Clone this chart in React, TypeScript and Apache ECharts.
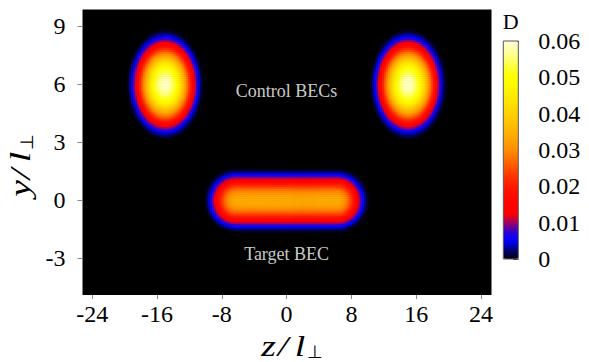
import React, { useEffect, useRef } from "react";
import * as echarts from "echarts";

// ---- axes / ticks ----
const Z_RANGE = [-25.2, 25.3];
const Y_RANGE = [-4.9, 9.85];
const X_TICKS = [-24, -16, -8, 0, 8, 16, 24];
const Y_TICKS = [-3, 0, 3, 6, 9];
const D_RANGE = [0, 0.06];
const D_STEP = 0.01;

// ---- condensates ----
const BEC_NAMES = ["Control BEC (left)", "Control BEC (right)", "Target BEC"];
const BEC_CENTER_Z = [-15, 15, 0];
const BEC_CENTER_Y = [6, 6, 0];
const BEC_FLAT_HALF_Z = [0, 0, 6.25];
const BEC_RADIUS_Z = [4.9, 4.9, 4.1];
const BEC_RADIUS_Y = [2.94, 2.94, 1.73];
const BEC_PEAK_D = [0.059, 0.059, 0.034];
const PROFILE_EXPONENT = 2;

// ---- annotations ----
const NOTE_TEXT = ["Control BECs", "Target BEC"];
const NOTE_Z = [0, 0];
const NOTE_Y = [5.62, -2.76];

// ---- colour map (0 .. 0.06, even steps) ----
const PALETTE = [
  "#000000", "#00007a", "#0000ff", "#3000d0", "#a00060",
  "#ff0000", "#ff0000", "#ff0a00", "#ff1a00", "#ff3200",
  "#ff5000", "#ff7000", "#ff8c00", "#ffa000", "#ffb200",
  "#ffc200", "#ffd000", "#ffdf00", "#ffec00", "#fff800",
  "#ffff00", "#ffff30", "#ffff70", "#ffffa8", "#ffffd8",
];

const DZ = 0.25;
const DY = 0.1;

function density(z: number, y: number): number {
  let d = 0;
  for (let k = 0; k < BEC_NAMES.length; k++) {
    const dz = Math.max(0, Math.abs(z - BEC_CENTER_Z[k]) - BEC_FLAT_HALF_Z[k]) / BEC_RADIUS_Z[k];
    const dy = (y - BEC_CENTER_Y[k]) / BEC_RADIUS_Y[k];
    const r2 = dz * dz + dy * dy;
    if (r2 < 1) d += BEC_PEAK_D[k] * Math.pow(1 - r2, PROFILE_EXPONENT);
  }
  return d;
}

function buildCells(): number[][] {
  const cells: number[][] = [];
  const nz = Math.round((Z_RANGE[1] - Z_RANGE[0]) / DZ);
  const ny = Math.round((Y_RANGE[1] - Y_RANGE[0]) / DY);
  for (let i = 0; i < nz; i++) {
    const z = Z_RANGE[0] + (i + 0.5) * DZ;
    for (let j = 0; j < ny; j++) {
      const y = Y_RANGE[0] + (j + 0.5) * DY;
      const d = density(z, y);
      if (d > 0.0002) cells.push([z, y, d]);
    }
  }
  return cells;
}

const SERIF = "Liberation Serif";

// axis-name glyphs: [text, offset along the text, offset below the middle line, italic]
const NAME_GLYPHS_X: [string, number, number, boolean][] = [
  ["z", 8.5, 0, true],
  ["/", 23, 0, true],
  ["l", 40, 0, true],
  ["⊥", 55, 6, false],
];
const NAME_GLYPHS_Y: [string, number, number, boolean][] = [
  ["y", 8.5, 0, true],
  ["/", 23, 0, true],
  ["l", 40, 0, true],
  ["⊥", 55, 6, false],
];

function nameGlyphs(glyphs: [string, number, number, boolean][]) {
  return glyphs.map(([t, dx, dy, it]) => ({
    type: "text",
    x: dx,
    y: dy,
    scaleX: it ? 1.3 : 1,
    style: {
      text: t,
      font: it ? `italic 29px ${SERIF}` : `18px ${SERIF}`,
      fill: "#000",
      align: "center",
      verticalAlign: "middle",
    },
  }));
}

export default function App() {
  const ref = useRef<HTMLDivElement>(null);
  useEffect(() => {
    if (!ref.current) return;
    const chart = echarts.init(ref.current, undefined, { renderer: "svg" });
    const cells = buildCells();
    const option: any = {
      animation: false,
      backgroundColor: "#ffffff",
      grid: [
        { left: 82.5, top: 9.5, width: 409, height: 285.5, show: true, backgroundColor: "#000000", borderWidth: 0 },
        { left: 503.3, top: 41, width: 15, height: 218, show: true, backgroundColor: "transparent", borderColor: "#555555", borderWidth: 1, z: 5 },
      ],
      xAxis: [
        {
          gridIndex: 0, type: "value", min: Z_RANGE[0], max: Z_RANGE[1], position: "bottom",
          axisLine: { show: false, onZero: false }, splitLine: { show: false },
          axisTick: { show: true, customValues: X_TICKS, length: 4, lineStyle: { color: "#888888" } },
          axisLabel: { customValues: X_TICKS, fontSize: 24, fontFamily: SERIF, color: "#000", margin: 7 },
        },
        { gridIndex: 1, type: "value", show: false, min: 0, max: 1 },
      ],
      yAxis: [
        {
          gridIndex: 0, type: "value", min: Y_RANGE[0], max: Y_RANGE[1], position: "left",
          axisLine: { show: false, onZero: false }, splitLine: { show: false },
          axisTick: { show: true, customValues: Y_TICKS, length: 5, lineStyle: { color: "#888888" } },
          axisLabel: { customValues: Y_TICKS, fontSize: 24, fontFamily: SERIF, color: "#000", margin: 17 },
        },
        {
          gridIndex: 1, type: "value", position: "right", min: D_RANGE[0], max: D_RANGE[1], interval: D_STEP,
          axisLine: { show: false, onZero: false }, splitLine: { show: false },
          axisTick: { show: true, inside: true, length: 5, lineStyle: { color: "#333333" } },
          axisLabel: {
            fontSize: 24, fontFamily: SERIF, color: "#000", margin: 20,
            formatter: (v: number) => (Math.abs(v) < 1e-9 ? "0" : v.toFixed(2)),
          },
        },
      ],
      visualMap: {
        type: "continuous", min: D_RANGE[0], max: D_RANGE[1], dimension: 2, seriesIndex: 0,
        inRange: { color: PALETTE }, calculable: false, hoverLink: false,
        left: 503.3, top: 41, itemWidth: 15, itemHeight: 218, padding: 0, orient: "vertical",
        text: null, showLabel: false,
      },
      graphic: [
        { type: "text", x: 510.8, y: 21.5, style: { text: "D", font: `22px ${SERIF}`, fill: "#000", align: "center", verticalAlign: "middle" } },
        { type: "group", x: 260, y: 346, children: nameGlyphs(NAME_GLYPHS_X) },
        { type: "group", x: 20.5, y: 197, rotation: Math.PI / 2, children: nameGlyphs(NAME_GLYPHS_Y) },
      ],
      series: [
        {
          type: "custom", xAxisIndex: 0, yAxisIndex: 0, clip: true,
          encode: { x: 0, y: 1 },
          data: cells,
          renderItem: (_params: any, api: any) => {
            const c = api.coord([api.value(0), api.value(1)]);
            const s = api.size([DZ, DY]);
            return {
              type: "rect",
              shape: { x: c[0] - s[0] / 2, y: c[1] - s[1] / 2, width: s[0] + 0.6, height: s[1] + 0.6 },
              style: { fill: api.visual("color") },
            };
          },
        },
        {
          type: "scatter", xAxisIndex: 0, yAxisIndex: 0, symbolSize: 0, silent: true,
          data: NOTE_TEXT.map((t, i) => [NOTE_Z[i], NOTE_Y[i], t]),
          label: {
            show: true, position: "inside", color: "#ffffff", fontSize: 18, fontFamily: SERIF,
            formatter: (p: any) => p.value[2],
          },
          z: 10,
        },
        { type: "line", xAxisIndex: 1, yAxisIndex: 1, data: [] },
      ],
    };
    chart.setOption(option);
    return () => chart.dispose();
  }, []);
  return (
    <div
      ref={ref}
      style={{ position: "fixed", left: 0, top: 0, width: 589, height: 362, background: "#fff" }}
    />
  );
}
